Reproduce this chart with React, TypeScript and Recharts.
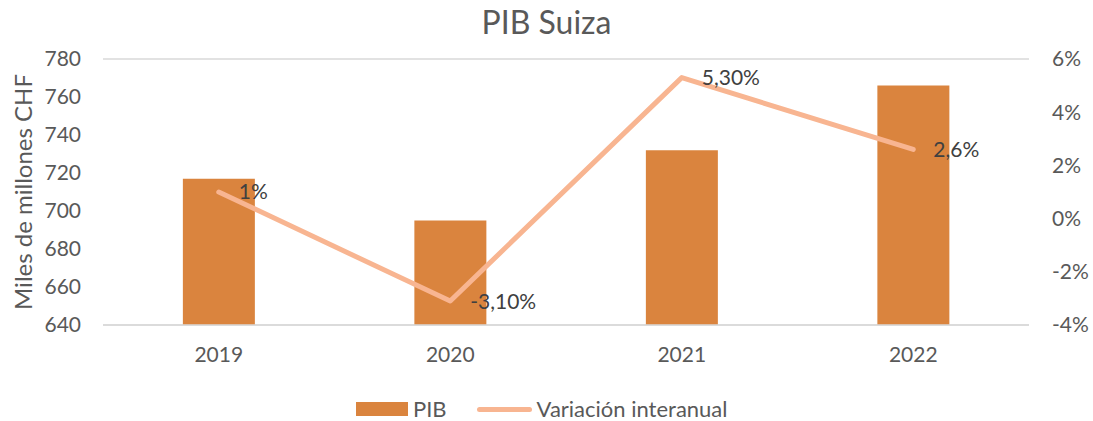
import {
  ComposedChart,
  Bar,
  Line,
  XAxis,
  YAxis,
  CartesianGrid,
  LabelList
} from "recharts";

const years = ["2019", "2020", "2021", "2022"];
const pib = [717, 695, 732, 766];
const variacion = [1, -3.1, 5.3, 2.6];
const variacionLabels = ["1%", "-3,10%", "5,30%", "2,6%"];
const leftTicks = [640, 660, 680, 700, 720, 740, 760, 780];
const rightTicks = [-4, -2, 0, 2, 4, 6];

const BAR_COLOR = "#DA843E";
const LINE_COLOR = "#F8B591";
const TEXT = "#595959";
const FONT = "Lato, 'Noto Sans', sans-serif";

export default function App() {
  const data = years.map((year, i) => ({
    year,
    pib: pib[i],
    variacion: variacion[i],
    label: variacionLabels[i]
  }));

  const tick = { fill: TEXT, fontSize: 21, fontFamily: FONT };

  return (
    <div style={{ position: "absolute", left: 0, top: 0, width: 1093, height: 421, background: "#fff", fontFamily: FONT }}>
      <div style={{ position: "absolute", top: 2, left: 0, width: 1093, textAlign: "center", fontSize: 32, color: TEXT }}>
        PIB Suiza
      </div>
      <ComposedChart
        width={1093}
        height={421}
        data={data}
        margin={{ top: 59, right: 0, bottom: 66, left: 0 }}
        barCategoryGap="34.5%"
      >
        <CartesianGrid vertical={false} stroke="#D9D9D9" strokeWidth={1.5} />
        <XAxis
          dataKey="year"
          axisLine={{ stroke: "#D9D9D9", strokeWidth: 1.5 }}
          tickLine={false}
          tickSize={0}
          tickMargin={22}
          height={30}
          tick={tick}
        />
        <YAxis
          yAxisId="left"
          domain={[640, 780]}
          ticks={leftTicks}
          width={103}
          axisLine={false}
          tickLine={false}
          tickSize={0}
          tickMargin={22}
          tick={tick}
          label={{
            value: "Miles de millones CHF",
            angle: -90,
            position: "insideLeft",
            offset: 23,
            style: { fill: TEXT, fontSize: 24, fontFamily: FONT, textAnchor: "middle" }
          }}
        />
        <YAxis
          yAxisId="right"
          orientation="right"
          domain={[-4, 6]}
          ticks={rightTicks}
          tickFormatter={(v: number) => `${v}%`}
          width={64}
          axisLine={false}
          tickLine={false}
          tickSize={0}
          tickMargin={23}
          tick={tick}
        />
        <Bar yAxisId="left" dataKey="pib" fill={BAR_COLOR} isAnimationActive={false} />
        <Line
          yAxisId="right"
          dataKey="variacion"
          stroke={LINE_COLOR}
          strokeWidth={5}
          strokeLinecap="round"
          strokeLinejoin="round"
          dot={false}
          activeDot={false}
          isAnimationActive={false}
        >
          <LabelList
            dataKey="label"
            position="right"
            offset={20}
            style={{ fill: "#404040", fontSize: 21, fontFamily: FONT }}
          />
        </Line>
      </ComposedChart>
      <div style={{ position: "absolute", top: 396, left: 356, display: "flex", alignItems: "center", fontSize: 22, color: TEXT, lineHeight: "26px" }}>
        <span style={{ display: "inline-block", width: 52, height: 14, background: BAR_COLOR, marginRight: 5 }} />
        <span>PIB</span>
        <span style={{ display: "inline-block", width: 55, height: 5, borderRadius: 3, background: LINE_COLOR, marginLeft: 30, marginRight: 5 }} />
        <span>Variación interanual</span>
      </div>
    </div>
  );
}
